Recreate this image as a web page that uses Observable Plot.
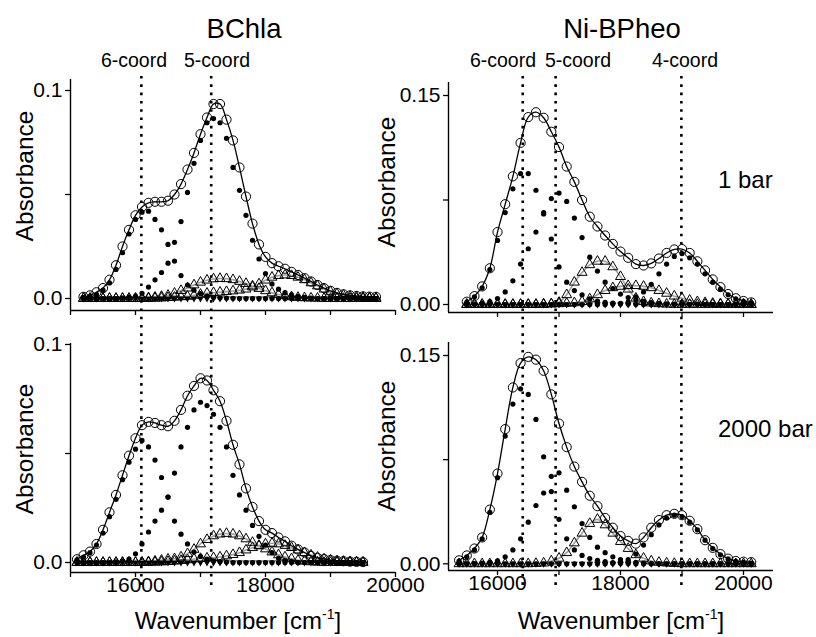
<!DOCTYPE html>
<html><head><meta charset="utf-8">
<script src="https://cdn.jsdelivr.net/npm/d3@7"></script>
<script src="https://cdn.jsdelivr.net/npm/@observablehq/plot@0.6"></script>
<style>
body{margin:0;background:#fff;}
#fig{position:relative;width:816px;height:637px;overflow:hidden;background:#fff}
</style></head><body><div id="fig"></div><script>
// ---------- DATA ----------
// BChla, 1 bar (top-left)
const tlWn = [15200,15300,15400,15500,15600,15700,15800,15900,16000,16100,
 16200,16300,16400,16500,16600,16700,16800,16900,17000,17100,
 17200,17300,17400,17500,17600,17700,17800,17900,18000,18100,
 18200,18300,18400,18500,18600,18700,18800,18900,19000,19100,
 19200,19300,19400,19500,19600,19700];
const tlTotal = [0.0008,0.0015,0.003,0.005,0.009,0.016,0.025,0.033,0.040,0.044,
 0.046,0.0465,0.0465,0.047,0.050,0.055,0.062,0.070,0.079,0.087,
 0.0935,0.0935,0.086,0.076,0.063,0.049,0.036,0.026,0.020,0.017,
 0.0155,0.0143,0.0128,0.0113,0.0098,0.0082,0.0065,0.005,0.0037,0.0027,
 0.002,0.0015,0.0012,0.001,0.0009,0.0008];
const tlC6 = [0.0005,0.001,0.002,0.004,0.0075,0.014,0.022,0.031,0.038,0.0415,
 0.042,0.038,0.033,0.026,0.018,0.011,0.0065,0.004,0.0024,0.0012,
 0.0006,0.0003,0.0002,0.0001,0,0,0,0,0,0,
 0,0,0,0,0,0,0,0,0,0,
 0,0,0,0,0,0];
const tlC5 = [0,0,0,0,0,0,0.0002,0.0005,0.0012,0.0025,
 0.0055,0.009,0.0125,0.017,0.027,0.037,0.051,0.065,0.076,0.0845,
 0.0865,0.0845,0.077,0.063,0.052,0.040,0.028,0.019,0.012,0.007,
 0.0045,0.0028,0.0017,0.001,0.0005,0.0002,0,0,0,0,
 0,0,0,0,0,0];
const tlV6 = [0,0,0,0,0,0,0,0,0,0.0001,
 0.0003,0.0006,0.001,0.0015,0.0025,0.0038,0.005,0.0065,0.0078,0.0088,
 0.0094,0.0096,0.0095,0.009,0.0082,0.0072,0.006,0.0048,0.0037,0.0027,
 0.0019,0.0013,0.0008,0.0005,0.0003,0.0002,0.0001,0,0,0,
 0,0,0,0,0,0];
const tlV5 = [0,0,0,0,0,0,0,0,0,0,
 0,0.0001,0.0002,0.0004,0.0006,0.0008,0.001,0.0015,0.002,0.0025,
 0.0028,0.003,0.0033,0.0036,0.004,0.0045,0.0055,0.007,0.0088,0.0102,
 0.011,0.0113,0.011,0.0102,0.009,0.0075,0.006,0.0045,0.0032,0.0022,
 0.0015,0.001,0.0007,0.0005,0.0003,0.0002];
const tlC4 = [0,0,0,0,0,0,0,0,0,0,
 0,0,0,0,0,0,0,0,0,0,
 0,0,0,0,0,0,0,0,0,0,
 0,0,0,0,0,0,0,0,0,0,
 0,0,0,0,0,0];

// BChla, 2000 bar (bottom-left)
const blWn = [15100,15200,15300,15400,15500,15600,15700,15800,15900,16000,
 16100,16200,16300,16400,16500,16600,16700,16800,16900,17000,
 17100,17200,17300,17400,17500,17600,17700,17800,17900,18000,
 18100,18200,18300,18400,18500,18600,18700,18800,18900,19000,
 19100,19200,19300,19400,19500];
const blTotal = [0.0015,0.0033,0.005,0.0085,0.015,0.023,0.031,0.040,0.049,0.057,
 0.063,0.0645,0.064,0.063,0.0625,0.065,0.070,0.0765,0.081,0.0845,
 0.0835,0.079,0.074,0.065,0.054,0.045,0.034,0.0255,0.019,0.015,
 0.0135,0.0115,0.0097,0.0077,0.006,0.0046,0.003,0.0021,0.0016,0.0011,
 0.0008,0.0006,0.0004,0.0003,0.0002];
const blC6 = [0.0012,0.0025,0.0045,0.008,0.0135,0.021,0.029,0.038,0.046,0.052,
 0.056,0.053,0.047,0.039,0.030,0.019,0.013,0.0085,0.0048,0.0028,
 0.0015,0.0008,0.0004,0.0002,0,0,0,0,0,0,
 0,0,0,0,0,0,0,0,0,0,
 0,0,0,0,0];
const blC5 = [0,0,0,0,0,0,0.0003,0.0008,0.0016,0.004,
 0.0085,0.014,0.019,0.024,0.030,0.041,0.053,0.062,0.070,0.0735,
 0.072,0.068,0.062,0.053,0.040,0.031,0.024,0.017,0.012,0.008,
 0.0045,0.002,0.001,0.0005,0,0,0,0,0,0,
 0,0,0,0,0];
const blV6 = [0,0,0,0,0,0,0,0,0,0,
 0.0001,0.0003,0.0006,0.001,0.0015,0.0017,0.0025,0.004,0.006,0.0085,
 0.0105,0.0122,0.013,0.0133,0.013,0.0122,0.0108,0.0092,0.0076,0.0062,
 0.0048,0.0035,0.0025,0.0017,0.001,0.0006,0.0003,0.0001,0,0,
 0,0,0,0,0];
const blV5 = [0,0,0,0,0,0,0,0,0,0,
 0,0,0.0001,0.0002,0.0004,0.0006,0.0009,0.0012,0.0016,0.0018,
 0.002,0.0022,0.0025,0.003,0.0036,0.0045,0.0057,0.0068,0.0078,0.0085,
 0.0088,0.0085,0.0078,0.0068,0.0057,0.0045,0.0034,0.0024,0.0016,0.0011,
 0.0007,0.0005,0.0003,0.0002,0.0001];
const blC4 = [0,0,0,0,0,0,0,0,0,0,
 0,0,0,0,0,0,0,0,0,0,
 0,0,0,0,0,0,0,0,0,0,
 0,0,0,0,0,0,0,0,0,0,
 0,0,0,0,0];

// Ni-BPheo, 1 bar (top-right)
const trWn = [15500,15625,15750,15875,16000,16125,16250,16375,16500,16625,
 16750,16875,17000,17125,17250,17375,17500,17625,17750,17875,
 18000,18125,18250,18375,18500,18625,18750,18875,19000,19125,
 19250,19375,19500,19625,19750,19875,20000,20125];
const trTotal = [0.002,0.006,0.013,0.026,0.052,0.072,0.092,0.116,0.1345,0.138,
 0.134,0.124,0.113,0.099,0.088,0.075,0.063,0.056,0.0495,0.0435,
 0.038,0.0335,0.029,0.028,0.0295,0.033,0.037,0.0395,0.0398,0.037,
 0.031,0.0245,0.018,0.0125,0.0075,0.0045,0.0025,0.0015];
const trC6 = [0.0015,0.0055,0.012,0.025,0.046,0.066,0.083,0.094,0.094,0.082,
 0.065,0.047,0.027,0.016,0.010,0.007,0.004,0.0025,0.0015,0.001,
 0.0006,0.0003,0.0001,0,0,0,0,0,0,0,
 0,0,0,0,0,0,0,0];
const trC5 = [0,0.0003,0.0008,0.002,0.0043,0.009,0.017,0.029,0.040,0.052,
 0.066,0.076,0.080,0.074,0.062,0.048,0.034,0.024,0.016,0.0115,
 0.0075,0.005,0.0035,0.0022,0.0014,0.0008,0.0004,0.0002,0,0,
 0,0,0,0,0,0,0,0];
const trV6 = [0,0,0,0,0,0,0,0,0,0,
 0.0003,0.0005,0.0015,0.007,0.016,0.023,0.0285,0.031,0.031,0.027,
 0.020,0.011,0.0045,0.002,0.001,0.0005,0.0002,0,0,0,
 0,0,0,0,0,0,0,0];
const trV5 = [0,0,0,0,0,0,0,0,0,0,
 0,0.0003,0.0005,0.0008,0.0012,0.002,0.004,0.007,0.010,0.012,
 0.013,0.0135,0.0135,0.013,0.012,0.010,0.008,0.006,0.0045,0.003,
 0.002,0.0013,0.0008,0.0005,0.0003,0.0002,0.0001,0];
const trC4 = [0,0,0,0,0,0,0,0,0,0,
 0,0,0,0,0,0,0,0,0,0.0003,
 0.0008,0.0018,0.0055,0.009,0.0145,0.022,0.029,0.0345,0.0365,0.0335,
 0.029,0.022,0.016,0.011,0.007,0.004,0.0022,0.0012];
const trBase = [0,0,0,0,0,0,0,0,0,0,
 0,0,0,0,0,0,0,0,0,0,
 0,0,0,0,0,0,0,0,0,0,
 0,0,0,0,0,0,0,0];

// Ni-BPheo, 2000 bar (bottom-right)
const brWn = [15375,15500,15625,15750,15875,16000,16125,16250,16375,16500,
 16625,16750,16875,17000,17125,17250,17375,17500,17625,17750,
 17875,18000,18125,18250,18375,18500,18625,18750,18875,19000,
 19125,19250,19375,19500,19625,19750,19875,20000,20125];
const brTotal = [0.0025,0.006,0.011,0.019,0.039,0.065,0.097,0.127,0.1445,0.149,
 0.147,0.139,0.122,0.101,0.084,0.070,0.059,0.049,0.0415,0.033,
 0.026,0.020,0.0165,0.0145,0.019,0.026,0.0315,0.035,0.036,0.035,
 0.031,0.025,0.017,0.0115,0.007,0.0037,0.002,0.0015,0.0012];
const brC6 = [0.002,0.005,0.010,0.018,0.037,0.062,0.092,0.115,0.126,0.122,
 0.104,0.077,0.052,0.032,0.018,0.010,0.006,0.0038,0.0025,0.0015,
 0.0008,0.0004,0.0002,0,0,0,0,0,0,0,
 0,0,0,0,0,0,0,0,0];
const brC5 = [0,0,0.0002,0.0005,0.001,0.0022,0.005,0.010,0.018,0.030,
 0.042,0.051,0.063,0.0655,0.053,0.041,0.029,0.019,0.012,0.008,
 0.005,0.003,0.0017,0.001,0.0005,0.0002,0,0,0,0,
 0,0,0,0,0,0,0,0,0];
const brV6 = [0,0,0,0,0,0,0,0,0,0,
 0.0002,0.0005,0.002,0.004,0.008,0.015,0.022,0.029,0.032,0.028,
 0.022,0.016,0.011,0.0065,0.004,0.002,0.001,0.0005,0.0002,0,
 0,0,0,0,0,0,0,0,0];
const brC4 = [0,0,0,0,0,0,0,0,0,0,
 0,0,0,0,0,0,0,0,0,0,
 0.0004,0.0012,0.003,0.007,0.0135,0.021,0.028,0.033,0.035,0.034,
 0.030,0.0245,0.017,0.011,0.0065,0.0035,0.0018,0.001,0.0005];
const brBase = [0,0,0,0,0,0,0,0,0,0,
 0,0,0,0,0,0,0,0,0,0,
 0,0,0,0,0,0,0,0,0,0,
 0,0,0,0,0,0,0,0,0];

// ticks and guide positions
const leftYTicks = [0, 0.1], leftYMinor = [0.05];
const rightYTicks = [0, 0.15], rightYMinor = [0.075];
const leftXTicks = [16000, 18000, 20000], leftXMinor = [15000, 17000, 19000];
const rightXTicks = [16000, 18000, 20000], rightXMinor = [17000, 19000];
const leftCoord = [16090, 17165];
const rightCoord = [16410, 16945, 18990];

// ---------- DRAW ----------
const FONT = '"Liberation Sans", Arial, Helvetica, sans-serif';
const TICK_FS = 21;
const fig = document.getElementById("fig");

function place(svg, left, top) {
  svg.style.position = "absolute";
  svg.style.left = left + "px";
  svg.style.top = top + "px";
  svg.style.background = "transparent";
  svg.style.overflow = "visible";
  svg.style.maxWidth = "none";
  fig.appendChild(svg);
}

function series(wn, arr) { return wn.map((w, i) => ({w, v: arr[i]})); }

function panel(c) {
  const marks = [];
  for (const arr of [c.v6, c.v5].filter(Boolean)) {
    marks.push(Plot.line(series(c.wn, arr), {x: "w", y: "v", stroke: "#a0a0a0", strokeWidth: 1.6, curve: "catmull-rom"}));
  }
  marks.push(Plot.dot(series(c.wn, c.base), {x: "w", y: "v", symbol: "triangle", rotate: 180, r: 2.5, fill: "#000"}));
  for (const arr of [c.v6, c.v5].filter(Boolean)) {
    marks.push(Plot.dot(series(c.wn, arr), {x: "w", y: "v", symbol: "triangle", r: 3.7, fill: "none", stroke: "#000", strokeWidth: 1}));
  }
  for (const arr of [c.c6, c.c5, c.c4].filter(Boolean)) {
    marks.push(Plot.dot(series(c.wn, arr), {x: "w", y: "v", r: 2.6, fill: "#000"}));
  }
  marks.push(Plot.dot(series(c.wn, c.total), {x: "w", y: "v", r: 4.6, fill: "none", stroke: "#000", strokeWidth: 1}));
  marks.push(Plot.line(series(c.wn, c.total), {x: "w", y: "v", stroke: "#000", strokeWidth: 1.3, curve: "catmull-rom"}));
  const yf = d3.format(c.yFmt), xf = d3.format("d");
  marks.push(
    Plot.axisY(c.yTicks.concat(c.yMinor), {tickSize: 5, tickFormat: () => "", label: null, strokeWidth: 1.3}),
    Plot.axisX(c.xTicks.concat(c.xMinor), {tickSize: 5, tickFormat: () => "", label: null, strokeWidth: 1.3}),
    Plot.text(c.yTicks, {y: d => d, frameAnchor: "left", dx: -8, textAnchor: "end", lineAnchor: "middle",
      text: d => yf(d), fontSize: TICK_FS, fontFamily: FONT, fill: "#000"}),
    Plot.ruleX([c.xDomain[0]], {strokeWidth: 1.4}),
    Plot.ruleY([c.yDomain[0]], {strokeWidth: 1.4})
  );
  if (c.xLabels) {
    marks.push(Plot.text(c.xTicks, {x: d => d, frameAnchor: "bottom", dy: 5, lineAnchor: "top",
      text: d => xf(d), fontSize: TICK_FS, fontFamily: FONT, fill: "#000"}));
  }
  const svg = Plot.plot({
    width: c.width, height: c.height,
    marginTop: c.mt, marginBottom: c.mb, marginLeft: c.ml, marginRight: c.mr,
    x: {domain: c.xDomain},
    y: {domain: c.yDomain},
    style: {fontFamily: FONT, color: "#000", background: "transparent", overflow: "visible"},
    marks
  });
  place(svg, c.left, c.top);
}

const leftX = [15000, 20000];
const rightX = [15203, 20488];

panel({left: 0, top: 0, width: 400, height: 320, mt: 79, mb: 10, ml: 70, mr: 5,
  xDomain: leftX, yDomain: [-0.00577, 0.10529], wn: tlWn, total: tlTotal, c6: tlC6, c5: tlC5, v6: tlV6, v5: tlV5, base: tlC4,
  yTicks: leftYTicks, yMinor: leftYMinor, yFmt: ".1f", xTicks: leftXTicks, xMinor: leftXMinor, xLabels: false});
panel({left: 0, top: 320, width: 400, height: 317, mt: 23, mb: 65, ml: 70, mr: 5,
  xDomain: leftX, yDomain: [-0.00459, 0.10046], wn: blWn, total: blTotal, c6: blC6, c5: blC5, v6: blV6, v5: blV5, base: blC4,
  yTicks: leftYTicks, yMinor: leftYMinor, yFmt: ".1f", xTicks: leftXTicks, xMinor: leftXMinor, xLabels: true});
panel({left: 400, top: 0, width: 416, height: 320, mt: 82, mb: 8, ml: 48, mr: 43,
  xDomain: rightX, yDomain: [-0.00574, 0.15933], wn: trWn, total: trTotal, c6: trC6, c5: trC5, c4: trC4, v6: trV6, v5: trV5, base: trBase,
  yTicks: rightYTicks, yMinor: rightYMinor, yFmt: ".2f", xTicks: rightXTicks, xMinor: rightXMinor, xLabels: false});
panel({left: 400, top: 320, width: 416, height: 317, mt: 22, mb: 67, ml: 48, mr: 43,
  xDomain: rightX, yDomain: [-0.00482, 0.15936], wn: brWn, total: brTotal, c6: brC6, c5: brC5, c4: brC4, v6: brV6, base: brBase,
  yTicks: rightYTicks, yMinor: rightYMinor, yFmt: ".2f", xTicks: rightXTicks, xMinor: rightXMinor, xLabels: true});

// dotted guide lines spanning both rows
function guides(lines, xDomain, left, width, ml, mr) {
  const svg = Plot.plot({
    width, height: 637, marginTop: 76, marginBottom: 51, marginLeft: ml, marginRight: mr,
    x: {domain: xDomain, axis: null},
    style: {background: "transparent", overflow: "visible"},
    marks: [Plot.ruleX(lines, {stroke: "#000", strokeWidth: 2.6, strokeDasharray: "2.6,5.7"})]
  });
  place(svg, left, 0);
}
guides(leftCoord, leftX, 0, 400, 70, 5);
guides(rightCoord, rightX, 400, 416, 48, 43);

// text labels
const T = d3.create("svg").attr("width", 816).attr("height", 637)
  .style("position", "absolute").style("left", "0px").style("top", "0px").style("overflow", "visible")
  .attr("font-family", FONT).attr("fill", "#000");
function txt(s, x, y, size, anchor = "middle") {
  return T.append("text").attr("x", x).attr("y", y).attr("font-size", size).attr("text-anchor", anchor).text(s);
}
txt("BChla", 244, 38, 27.5);
txt("Ni-BPheo", 622, 38, 27.5);
txt("6-coord", 134, 67, 19.5);
txt("5-coord", 217, 67, 19.5);
txt("6-coord", 503, 67, 19.5);
txt("5-coord", 578, 67, 19.5);
txt("4-coord", 685, 67, 19.5);
txt("1 bar", 718, 188, 24, "start");
txt("2000 bar", 718, 437, 24, "start");
for (const [x, y] of [[33, 176], [33, 449], [395, 182], [395, 446]]) {
  T.append("text").attr("transform", `translate(${x},${y}) rotate(-90)`).attr("font-size", 24.5)
    .attr("text-anchor", "middle").text("Absorbance");
}
for (const x of [238, 621]) {
  const t = T.append("text").attr("x", x).attr("y", 629).attr("font-size", 24).attr("text-anchor", "middle");
  t.append("tspan").text("Wavenumber [cm");
  t.append("tspan").attr("font-size", 14).attr("dy", -10).text("-1");
  t.append("tspan").attr("dy", 10).text("]");
}
fig.appendChild(T.node());
</script></body></html>
